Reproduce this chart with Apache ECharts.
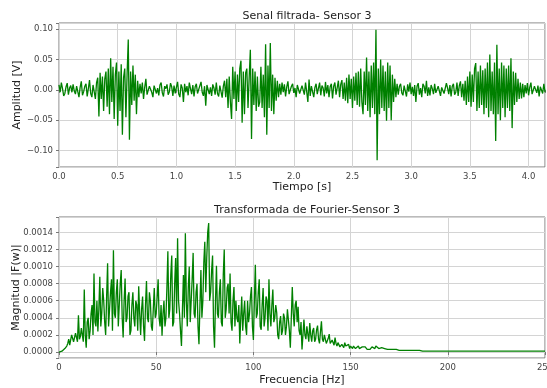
<!DOCTYPE html>
<html>
<head>
<meta charset="utf-8">
<script src="https://cdn.jsdelivr.net/npm/echarts@6/dist/echarts.min.js"></script>
<style>
  html, body { margin: 0; padding: 0; background: #fff; }
  #chart { width: 547px; height: 388px; }
</style>
</head>
<body>
<div id="chart"></div>
<script>
const sampleStep = 0.01
const timeSignal = [
  0.008, -0.004, 0.012, 0.002, -0.010, -0.006, 0.005, 0.011, -0.008, 0.003, 0.007, -0.004, 0.009, -0.002, -0.007, 0.006, 0.003,
  -0.012, 0.004, 0.014, -0.009, -0.003, 0.006, 0.010, -0.011, 0.002, 0.016, -0.006, -0.012, 0.008, 0.005, -0.015, 0.012,
  // rafaga 1
  0.020, -0.044, 0.028, -0.015, 0.022, -0.035, 0.018, 0.030, -0.028, 0.035, -0.040, 0.052, -0.020, 0.038, -0.048, 0.025, 0.045,
  -0.059, 0.030, -0.035, 0.042, -0.074, 0.020, 0.035, -0.045, 0.025, 0.083, -0.082, 0.030, -0.025, 0.040, -0.018, 0.025, -0.040,
  0.015, -0.012,
  0.010, -0.006, 0.012, -0.015, 0.004, 0.018, -0.008, -0.010, 0.006, 0.009,
  -0.004, -0.012, 0.007, 0.010, -0.006, 0.003, -0.009, 0.008, 0.012, -0.005,
  -0.011, 0.006, 0.002, 0.009, -0.008, -0.003, 0.011, 0.005, -0.010, 0.007,
  -0.006, 0.004, 0.013, -0.007, -0.012, 0.009, 0.003, -0.020, 0.010, -0.004,
  0.006, -0.009, 0.012, 0.002, -0.007, 0.008, -0.011, 0.005, 0.010, -0.006,
  -0.009, 0.007, 0.013, -0.004, -0.010, 0.006, -0.026, 0.008, 0.011, -0.007,
  0.004, -0.010, 0.009, 0.003, -0.008, 0.012, -0.006, -0.011, 0.007, 0.010,
  -0.013, 0.006, 0.015, -0.012,
  // rafaga 2
  0.018, -0.030, 0.022, -0.020, -0.048, 0.038, -0.015, 0.030, -0.035, 0.025, -0.020, 0.035, 0.048, -0.054, 0.030, -0.040, 0.028,
  0.035, -0.030, 0.020, 0.066, -0.081, 0.035, -0.025, 0.030, -0.035, 0.022, -0.028, -0.020, 0.038, -0.030, 0.025, -0.045, 0.075,
  -0.074, 0.040, -0.030, 0.077, -0.035, 0.025, -0.040, 0.020, -0.018, 0.015, -0.012, 0.010,
  -0.008, 0.012, -0.004, 0.009, -0.011, 0.005, 0.014, -0.007, -0.010, 0.006,
  0.010, -0.005, 0.003, -0.012, 0.008, 0.011, -0.006, -0.009, 0.007, 0.004,
  -0.008, 0.012, -0.003, -0.020, 0.017, -0.010, 0.006, 0.009, -0.012, 0.004,
  0.010, -0.007, -0.004, 0.012, -0.009, 0.007, 0.003, -0.011, 0.013, -0.006,
  0.008, -0.012, 0.005, 0.010, -0.014, 0.006, 0.012, -0.008, -0.010, 0.015,
  -0.012, 0.009, 0.016, -0.015, 0.012, -0.018,
  // rafaga 3
  0.020, -0.022, 0.025, -0.015, 0.018, -0.030, 0.022, -0.018, 0.028, -0.025, 0.030, -0.028, 0.035, -0.020, -0.040, 0.030, -0.025,
  0.053, -0.035, 0.030, -0.045, 0.040, -0.030, 0.045, -0.040, 0.099, -0.116, 0.035, -0.040, 0.050, -0.030, 0.040, -0.035, 0.030,
  -0.051, 0.045, -0.030, 0.040, -0.050, 0.025, -0.020, 0.018, -0.012, 0.010,
  -0.008, 0.006, 0.010, -0.005, -0.009, 0.007, 0.004, -0.011, 0.009, -0.003,
  0.012, -0.007, 0.005, -0.010, 0.008, -0.020, 0.006, 0.011, -0.008, 0.003,
  -0.012, 0.010, 0.006, -0.006, 0.015, -0.010, 0.004, -0.009, 0.008, 0.002,
  -0.007, 0.010, -0.005, -0.008, 0.006, 0.009, -0.010, 0.004, 0.007, -0.006,
  -0.009, 0.011, 0.003, -0.007, 0.008, -0.011, 0.006, 0.010, -0.008, -0.004,
  0.012, -0.010, 0.007, 0.014, -0.012, 0.010,
  // rafaga 4
  -0.018, 0.015, -0.025, 0.022, -0.020, 0.030, -0.028, 0.025, -0.020, 0.035, 0.044, -0.035, 0.030, -0.030, 0.040, -0.025, 0.032,
  -0.040, 0.035, -0.030, 0.045, -0.045, 0.058, -0.035, 0.030, -0.040, 0.045, -0.084, 0.074, -0.040, 0.035, -0.050, 0.045, -0.030,
  0.040, -0.045, 0.035, -0.030, 0.040, -0.035, 0.052, -0.063, 0.030, -0.025, 0.028, -0.020, 0.018, -0.015, 0.012, -0.014, 0.010,
  -0.012,
  0.008, -0.006, 0.011, -0.009, 0.004, 0.012, -0.007, -0.010, 0.006, 0.009, -0.005, 0.007, -0.011, 0.005, 0.008, -0.006, 0.010,
  -0.004
]

// magnitud de la FFT cada 0.5 Hz, de 0 a 250 Hz
const freqStep = 0.5
const fftMagnitude = [
  0.00000, 0.00000, 0.00001, 0.00001, 0.00002, 0.00003, 0.00004, 0.00005, 0.00007, 0.00010,
  0.00015, 0.00008, 0.00010, 0.00020, 0.00021, 0.00012, 0.00014, 0.00022, 0.00024, 0.00012,
  0.00043, 0.00015, 0.00018, 0.00028, 0.00030, 0.00012, 0.00073, 0.00020, 0.00005, 0.00035,
  0.00040, 0.00015, 0.00025, 0.00045, 0.00055, 0.00020, 0.00092, 0.00035, 0.00030, 0.00060,
  0.00024, 0.00050, 0.00088, 0.00030, 0.00045, 0.00075, 0.00060, 0.00035, 0.00020, 0.00065,
  0.00104, 0.00030, 0.00050, 0.00070, 0.00085, 0.00025, 0.00119, 0.00045, 0.00040, 0.00070,
  0.00085, 0.00030, 0.00055, 0.00080, 0.00096, 0.00040, 0.00017, 0.00060, 0.00086, 0.00035,
  0.00040, 0.00065, 0.00070, 0.00020, 0.00025, 0.00055, 0.00070, 0.00040, 0.00030, 0.00060,
  0.00055, 0.00025, 0.00077, 0.00045, 0.00020, 0.00050, 0.00065, 0.00030, 0.00013, 0.00055,
  0.00083, 0.00040, 0.00035, 0.00070, 0.00060, 0.00030, 0.00025, 0.00050, 0.00075, 0.00040,
  0.00045, 0.00065, 0.00085, 0.00040, 0.00030, 0.00055, 0.00019, 0.00045, 0.00060, 0.00030,
  0.00040, 0.00075, 0.00118, 0.00040, 0.00050, 0.00090, 0.00113, 0.00030, 0.00035, 0.00080,
  0.00110, 0.00045, 0.00133, 0.00060, 0.00045, 0.00025, 0.00007, 0.00050, 0.00090, 0.00040,
  0.00139, 0.00060, 0.00030, 0.00075, 0.00100, 0.00035, 0.00060, 0.00085, 0.00116, 0.00045,
  0.00040, 0.00070, 0.00080, 0.00030, 0.00009, 0.00055, 0.00096, 0.00040, 0.00060, 0.00105,
  0.00129, 0.00070, 0.00110, 0.00140, 0.00151, 0.00060, 0.00070, 0.00095, 0.00113, 0.00030,
  0.00005, 0.00060, 0.00101, 0.00045, 0.00040, 0.00070, 0.00085, 0.00035, 0.00030, 0.00090,
  0.00120, 0.00040, 0.00050, 0.00075, 0.00080, 0.00045, 0.00092, 0.00035, 0.00025, 0.00060,
  0.00076, 0.00030, 0.00060, 0.00040, 0.00035, 0.00055, 0.00010, 0.00040, 0.00065, 0.00025,
  0.00045, 0.00060, 0.00030, 0.00020, 0.00060, 0.00035, 0.00045, 0.00065, 0.00076, 0.00030,
  0.00014, 0.00060, 0.00102, 0.00040, 0.00045, 0.00070, 0.00085, 0.00030, 0.00026, 0.00055,
  0.00075, 0.00030, 0.00040, 0.00065, 0.00060, 0.00025, 0.00085, 0.00045, 0.00030, 0.00055,
  0.00073, 0.00035, 0.00040, 0.00055, 0.00046, 0.00020, 0.00015, 0.00035, 0.00042, 0.00020,
  0.00025, 0.00045, 0.00040, 0.00020, 0.00030, 0.00050, 0.00050, 0.00025, 0.00005, 0.00040,
  0.00076, 0.00045, 0.00030, 0.00055, 0.00060, 0.00035, 0.00053, 0.00025, 0.00020, 0.00035,
  0.00003, 0.00020, 0.00038, 0.00020, 0.00015, 0.00030, 0.00030, 0.00012, 0.00034, 0.00020,
  0.00012, 0.00025, 0.00028, 0.00012, 0.00015, 0.00026, 0.00031, 0.00015, 0.00010, 0.00024,
  0.00036, 0.00015, 0.00012, 0.00020, 0.00022, 0.00010, 0.00008, 0.00016, 0.00021, 0.00010,
  0.00010, 0.00014, 0.00015, 0.00008, 0.00017, 0.00010, 0.00007, 0.00011, 0.00012, 0.00006,
  0.00006, 0.00009, 0.00010, 0.00005, 0.00011, 0.00007, 0.00005, 0.00008, 0.00009, 0.00004,
  0.00007, 0.00005, 0.00004, 0.00007, 0.00008, 0.00004, 0.00005, 0.00006, 0.00007, 0.00004,
  0.00004, 0.00006, 0.00006, 0.00004, 0.00005, 0.00006, 0.00004, 0.00003, 0.00005, 0.00004,
  0.00003,
  0.00005, 0.00006, 0.00004, 0.00005, 0.00004, 0.00007, 0.00005, 0.00005, 0.00004,
  0.00004, 0.00005, 0.00005, 0.00003, 0.00003, 0.00004, 0.00004, 0.00003, 0.00003, 0.00004,
  0.00004, 0.00003, 0.00002, 0.00003, 0.00003, 0.00002, 0.00002, 0.00003, 0.00003, 0.00002,
  0.00002, 0.00003, 0.00003, 0.00002, 0.00002, 0.00002, 0.00002, 0.00002, 0.00003, 0.00002,
  0.00002, 0.00002, 0.00002, 0.00001, 0.00001, 0.00002, 0.00002, 0.00002, 0.00002, 0.00001,
  0.00001, 0.00002, 0.00002, 0.00001, 0.00001, 0.00002, 0.00002, 0.00001, 0.00001, 0.00001,
  0.00001, 0.00001, 0.00001, 0.00001, 0.00001, 0.00001, 0.00001, 0.00001, 0.00001, 0.00001,
  0.00001, 0.00001, 0.00001, 0.00001, 0.00001, 0.00001, 0.00001, 0.00001, 0.00001, 0.00001,
  0.00001, 0.00001, 0.00001, 0.00001, 0.00001, 0.00001, 0.00001, 0.00001, 0.00001, 0.00001,
  0.00001, 0.00001, 0.00001, 0.00001, 0.00001, 0.00001, 0.00001, 0.00001, 0.00001, 0.00001,
  0.00001, 0.00001, 0.00001, 0.00001, 0.00001, 0.00001, 0.00001, 0.00001, 0.00001, 0.00001,
  0.00001, 0.00001, 0.00001, 0.00001, 0.00001, 0.00001, 0.00001, 0.00001, 0.00001, 0.00001,
  0.00001, 0.00001, 0.00001, 0.00001, 0.00001, 0.00001, 0.00001, 0.00001, 0.00001, 0.00001,
  0.00001, 0.00001, 0.00001, 0.00001, 0.00001, 0.00001, 0.00001, 0.00001, 0.00001, 0.00001,
  0.00001, 0.00001, 0.00001, 0.00001, 0.00001, 0.00001, 0.00001, 0.00001, 0.00001, 0.00001,
  0.00001, 0.00001, 0.00001, 0.00001, 0.00001, 0.00001, 0.00001, 0.00001, 0.00001, 0.00001,
  0.00001, 0.00001, 0.00001, 0.00001, 0.00001, 0.00001, 0.00001, 0.00001, 0.00001, 0.00001,
  0.00001, 0.00001, 0.00001, 0.00001, 0.00001, 0.00001, 0.00001, 0.00001, 0.00001, 0.00001,
  0.00001
]

const titles = ['Senal filtrada- Sensor 3', 'Transformada de Fourier-Sensor 3']
const xNames = ['Tiempo [s]', 'Frecuencia [Hz]']
const yNames = ['Amplitud [V]', 'Magnitud |F(w)|']

const FONT = 'DejaVu Sans'
const GREEN = '#008000'

const timePoints = timeSignal.map((v, i) => [+(i * sampleStep).toFixed(2), v])
const freqPoints = fftMagnitude.map((v, i) => [i * freqStep, v])

// solo rotular multiplos del paso (los extremos del eje no llevan texto)
function stepLabel(step, digits, minus) {
  return v => {
    const k = v / step
    if (Math.abs(k - Math.round(k)) > 1e-6) return ''
    let s = (Math.round(k) * step).toFixed(digits)
    if (minus) s = s.replace('-', '\u2212')
    return s
  }
}

function xAxisOf(idx, min, max, interval, digits) {
  return {
    type: 'value', gridIndex: idx, min: min, max: max, interval: interval,
    name: xNames[idx], nameLocation: 'middle', nameGap: idx === 0 ? 15 : 17,
    nameMoveOverlap: false,
    nameTextStyle: { fontFamily: FONT, fontSize: 11, color: '#222' },
    axisLine: { show: false },
    axisTick: { show: true, length: 3, lineStyle: { color: '#777' } },
    axisLabel: { fontFamily: FONT, fontSize: 8.5, color: '#444', margin: 5,
      formatter: stepLabel(interval, digits, false) },
    splitLine: { show: true, lineStyle: { color: '#d4d4d4', width: 1 } }
  }
}

function yAxisOf(idx, min, max, split, step, digits) {
  return {
    type: 'value', gridIndex: idx, min: min, max: max, splitNumber: split,
    name: yNames[idx], nameLocation: 'middle', nameGap: idx === 0 ? 36 : 37,
    nameMoveOverlap: false,
    nameTextStyle: { fontFamily: FONT, fontSize: 11, color: '#222' },
    axisLine: { show: false },
    axisTick: { show: true, length: 3, lineStyle: { color: '#777' } },
    axisLabel: { fontFamily: FONT, fontSize: 8.5, color: '#444', margin: 6,
      formatter: stepLabel(step, digits, true) },
    splitLine: { show: true, lineStyle: { color: '#d4d4d4', width: 1 } }
  }
}

const chart = echarts.init(document.getElementById('chart'), null, { renderer: 'canvas' })

const option = {
  animation: false,
  backgroundColor: '#fff',
  title: [
    { text: titles[0], left: 302, top: 6, textAlign: 'center',
      textStyle: { fontFamily: FONT, fontSize: 11, fontWeight: 'normal', color: '#222' } },
    { text: titles[1], left: 302, top: 200, textAlign: 'center',
      textStyle: { fontFamily: FONT, fontSize: 11, fontWeight: 'normal', color: '#222' } }
  ],
  grid: [
    { left: 59, top: 23, width: 486, height: 144, show: true, borderColor: '#777', borderWidth: 1,
      backgroundColor: 'transparent', containLabel: false, outerBoundsMode: 'none' },
    { left: 59, top: 217, width: 486, height: 141, show: true, borderColor: '#777', borderWidth: 1,
      backgroundColor: 'transparent', containLabel: false, outerBoundsMode: 'none' }
  ],
  xAxis: [
    xAxisOf(0, 0, 4.14, 0.5, 1),
    xAxisOf(1, 0, 250, 50, 0)
  ],
  yAxis: [
    yAxisOf(0, -0.127, 0.11, 5, 0.05, 2),
    yAxisOf(1, -0.00007, 0.00158, 8, 0.0002, 4)
  ],
  series: [
    { type: 'line', xAxisIndex: 0, yAxisIndex: 0, data: timePoints, showSymbol: false, sampling: 'none',
      lineStyle: { color: GREEN, width: 1.3 }, itemStyle: { color: GREEN } },
    { type: 'line', xAxisIndex: 1, yAxisIndex: 1, data: freqPoints, showSymbol: false, sampling: 'none',
      lineStyle: { color: GREEN, width: 1.3 }, itemStyle: { color: GREEN } }
  ]
}

chart.setOption(option)
</script>
</body>
</html>
